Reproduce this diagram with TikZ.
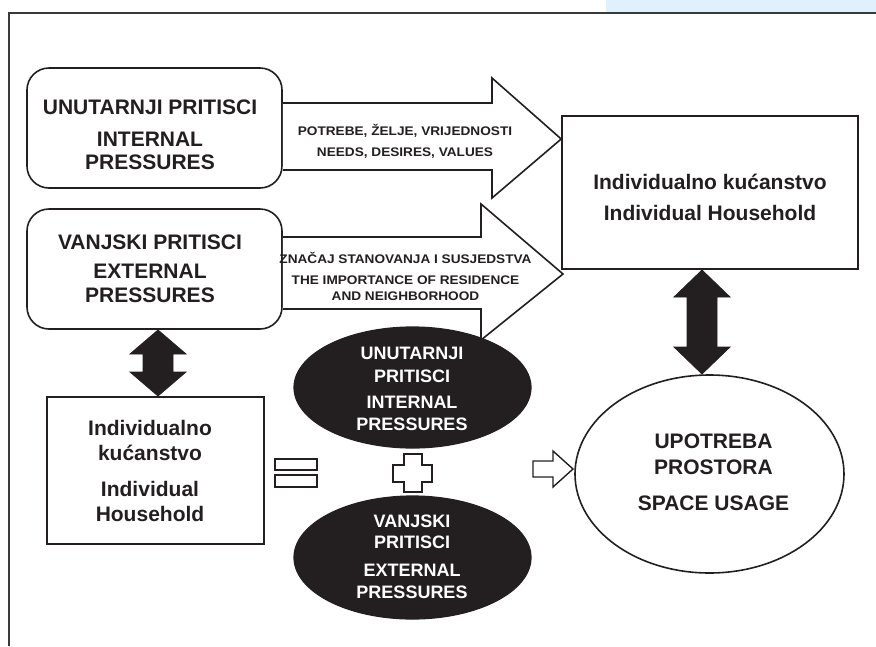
\documentclass[tikz,border=0pt]{standalone}
\usepackage{fontspec}
\usetikzlibrary{shapes.geometric}
\newfontfamily\lab{Liberation Sans}
\newfontfamily\labw{Liberation Sans}[FakeStretch=1.09]
\definecolor{ink}{HTML}{231F20}
\definecolor{framegray}{HTML}{3A3A3A}
\definecolor{paleblue}{HTML}{DFF1FA}
\tikzset{
  outl/.style={draw=ink, line width=1.6pt, fill=white},
  rbox/.style={outl, rounded corners=22pt, inner sep=0pt},
  sbox/.style={outl, inner sep=0pt},
  wellipse/.style={outl, ellipse, inner sep=0pt},
  bellipse/.style={draw=ink, line width=1.2pt, fill=ink, ellipse, inner sep=0pt},
  bigtxt/.style={font=\lab\bfseries\fontsize{21}{25}\selectfont, anchor=base, inner sep=0pt, text=ink},
  midtxt/.style={font=\lab\bfseries\fontsize{18}{22}\selectfont, anchor=base, inner sep=0pt, text=white},
  smalltxt/.style={font=\labw\bfseries\fontsize{12.5}{15}\selectfont, anchor=base, inner sep=0pt, text=ink},
  blockarrow/.style={draw=ink, line width=1.6pt, fill=white, line join=miter},
  fatarrow/.style={fill=ink, draw=ink, line width=0.8pt, line join=miter},
}
\begin{document}
\begin{tikzpicture}[x=1pt,y=-1pt]
\useasboundingbox (0,0) rectangle (876,646);
% page frame
\fill[paleblue] (606,0) rectangle (876,12);
\draw[framegray, line width=1.3pt] (9,646) -- (9,13) -- (876,13);

% boxes
\node[rbox, minimum width=255pt, minimum height=120pt] (intbox) at (154.5,128) {};
\node[rbox, minimum width=255pt, minimum height=120pt] (extbox) at (154.5,269) {};
\node[sbox, minimum width=296pt, minimum height=153pt] (hhbox) at (710,192.5) {};
\node[sbox, minimum width=217pt, minimum height=147pt] (llbox) at (155.5,470.5) {};
\node[wellipse, minimum width=269pt, minimum height=198pt] (usage) at (709.5,474) {};
\node[bellipse, minimum width=237pt, minimum height=121pt] (intell) at (412.5,387.5) {};
\node[bellipse, minimum width=237pt, minimum height=123pt] (extell) at (412.5,557.5) {};

% block arrows
\draw[blockarrow] (intbox.east |- 0,103) -- (492,103) -- (492,78) -- (hhbox.west |- 0,139) -- (492,198) -- (492,170) -- (intbox.east |- 0,170);
\draw[blockarrow] (extbox.east |- 0,237) -- (481,237) -- (481,204) -- (563,274) -- (481,340) -- (481,309) -- (extbox.east |- 0,309);

% double arrows
\coordinate (la1) at (158,330);
\coordinate (la2) at (158,396);
\fill[fatarrow] (la1) -- (186,354) -- (173,354) -- (173,372) -- (186,372) -- (la2) -- (130,372) -- (143,372) -- (143,354) -- (130,354) -- cycle;
\coordinate (ra1) at (702,270);
\coordinate (ra2) at (702,374);
\fill[fatarrow] (ra1) -- (730,297) -- (717,297) -- (717,347) -- (730,347) -- (ra2) -- (674,347) -- (687,347) -- (687,297) -- (674,297) -- cycle;

% equals, plus, small arrow
\draw[outl, line width=1.4pt] (275,459) rectangle (317,470);
\draw[outl, line width=1.4pt] (275,475) rectangle (317,487);
\draw[outl, line width=1.4pt, line join=miter] (404,454) -- (422,454) -- (422,465) -- (432,465) -- (432,482) -- (422,482) -- (422,492) -- (404,492) -- (404,482) -- (393,482) -- (393,465) -- (404,465) -- cycle;
\draw[outl, line width=1.4pt, line join=miter] (533,461) -- (553,461) -- (553,451) -- (573,469) -- (553,487) -- (553,477) -- (533,477) -- cycle;

% texts
\node[bigtxt] (t1) at (150,114) {UNUTARNJI PRITISCI};
\node[bigtxt] (t2) at (150,146) {INTERNAL};
\node[bigtxt] (t3) at (150,169) {PRESSURES};
\node[bigtxt] (t4) at (150,249) {VANJSKI PRITISCI};
\node[bigtxt] (t5) at (150,278) {EXTERNAL};
\node[bigtxt] (t6) at (150,302) {PRESSURES};

\node[smalltxt] (t7) at (405,135.7) {POTREBE, ŽELJE, VRIJEDNOSTI};
\node[smalltxt] (t8) at (405,156.3) {NEEDS, DESIRES, VALUES};
\node[smalltxt] (t9) at (405.5,263) {ZNAČAJ STANOVANJA I SUSJEDSTVA};
\node[smalltxt] (t10) at (405.5,284) {THE IMPORTANCE OF RESIDENCE};
\node[smalltxt] (t11) at (405.5,300) {AND NEIGHBORHOOD};

\node[bigtxt] (t12) at (710,189) {Individualno kućanstvo};
\node[bigtxt] (t13) at (710,220) {Individual Household};

\node[bigtxt] (t14) at (150,435) {Individualno};
\node[bigtxt] (t15) at (150,460) {kućanstvo};
\node[bigtxt] (t16) at (150,496.5) {Individual};
\node[bigtxt] (t17) at (150,521.5) {Household};

\node[midtxt] (t18) at (412,359) {UNUTARNJI};
\node[midtxt] (t19) at (412,382) {PRITISCI};
\node[midtxt] (t20) at (412,408) {INTERNAL};
\node[midtxt] (t21) at (412,430) {PRESSURES};
\node[midtxt] (t22) at (412,527) {VANJSKI};
\node[midtxt] (t23) at (412,548) {PRITISCI};
\node[midtxt] (t24) at (412,576) {EXTERNAL};
\node[midtxt] (t25) at (412,598) {PRESSURES};

\node[bigtxt] (t26) at (713.5,448) {UPOTREBA};
\node[bigtxt] (t27) at (713.5,474) {PROSTORA};
\node[bigtxt] (t28) at (713.5,510.5) {SPACE USAGE};
\end{tikzpicture}
\end{document}
